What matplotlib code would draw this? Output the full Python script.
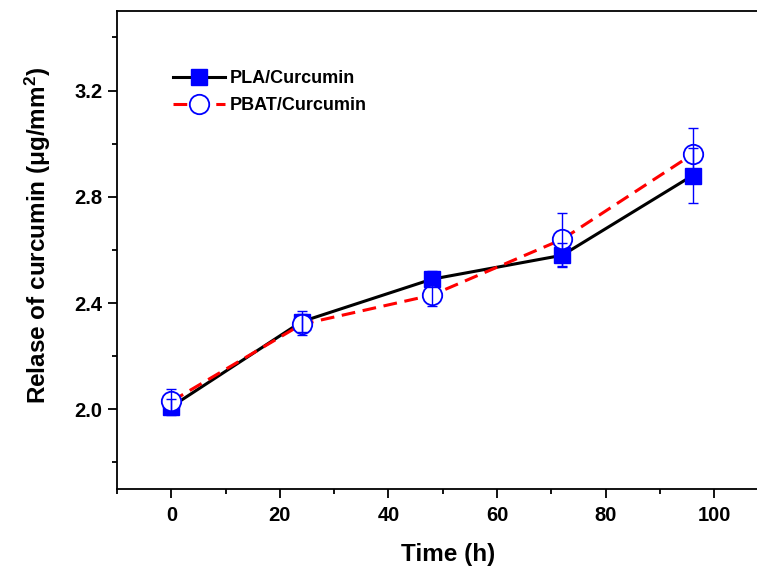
import matplotlib
matplotlib.use('Agg')
import matplotlib.pyplot as plt
from matplotlib.ticker import MultipleLocator

plt.rcParams['font.family'] = ['Liberation Sans', 'DejaVu Sans']
plt.rcParams['font.weight'] = 'bold'
plt.rcParams['mathtext.fontset'] = 'custom'
plt.rcParams['mathtext.rm'] = 'Liberation Sans:bold'
plt.rcParams['mathtext.bf'] = 'Liberation Sans:bold'
plt.rcParams['mathtext.it'] = 'Liberation Sans:bold'

# データ
time_h = [0, 24, 48, 72, 96]
pla = [2.01, 2.33, 2.49, 2.58, 2.88]
pla_err = [0.03, 0.04, 0.03, 0.045, 0.105]
pbat = [2.03, 2.32, 2.43, 2.64, 2.96]
pbat_err = [0.045, 0.04, 0.04, 0.10, 0.10]

fig = plt.figure(figsize=(7.57, 5.70), dpi=100)
# 右端は画像の外まで伸ばす（元画像では右の枠線が切れている）
ax = fig.add_axes([0.1546, 0.1420, 0.875, 0.839])

ax.plot(time_h, pla, color='black', lw=2.2, marker='s', ms=12,
        mfc='blue', mec='blue', label='PLA/Curcumin', zorder=3)
ax.plot(time_h, pbat, color='red', lw=2.2, dashes=(4.5, 2.5), marker='o', ms=14,
        mfc='white', mec='blue', mew=1.3, label='PBAT/Curcumin', zorder=4)

# エラーバー
ax.errorbar(time_h, pla, yerr=pla_err, fmt='none', ecolor='blue', elinewidth=1,
            capsize=3.6, capthick=1, zorder=5)
ax.errorbar(time_h, pbat, yerr=pbat_err, fmt='none', ecolor='blue', elinewidth=1,
            capsize=3.6, capthick=1, zorder=5)

ax.set_xlim(-10, 112)
ax.set_ylim(1.7, 3.5)
ax.set_xticks([0, 20, 40, 60, 80, 100])
ax.xaxis.set_minor_locator(MultipleLocator(10))
ax.set_yticks([2.0, 2.4, 2.8, 3.2])
ax.yaxis.set_minor_locator(MultipleLocator(0.2))
ax.yaxis.set_major_formatter(plt.FuncFormatter(lambda v, p: f'{v:.1f}'))

ax.tick_params(which='major', direction='out', length=6.5, width=1.3, labelsize=14.5)
ax.tick_params(axis='y', which='major', pad=4)
ax.tick_params(axis='x', which='major', pad=6)
ax.tick_params(which='minor', direction='out', length=3.6, width=1.3)
for s in ax.spines.values():
    s.set_linewidth(1.3)
ax.spines['right'].set_visible(False)

ax.set_xlabel('Time (h)', fontsize=17.5, fontweight='bold', labelpad=13)
ax.set_ylabel(r'Relase of curcumin ($\mathregular{\mu}$g/mm$^\mathbf{2}$)',
              fontsize=17.5, fontweight='bold')
ax.yaxis.set_label_coords(-0.097, 0.53)

ax.legend(loc='upper left', bbox_to_anchor=(0.06, 0.91), frameon=False,
          prop={'size': 13, 'weight': 'bold'}, handlelength=2.9, handletextpad=0.25,
          labelspacing=0.55)

fig.savefig('out.png', dpi=100)
